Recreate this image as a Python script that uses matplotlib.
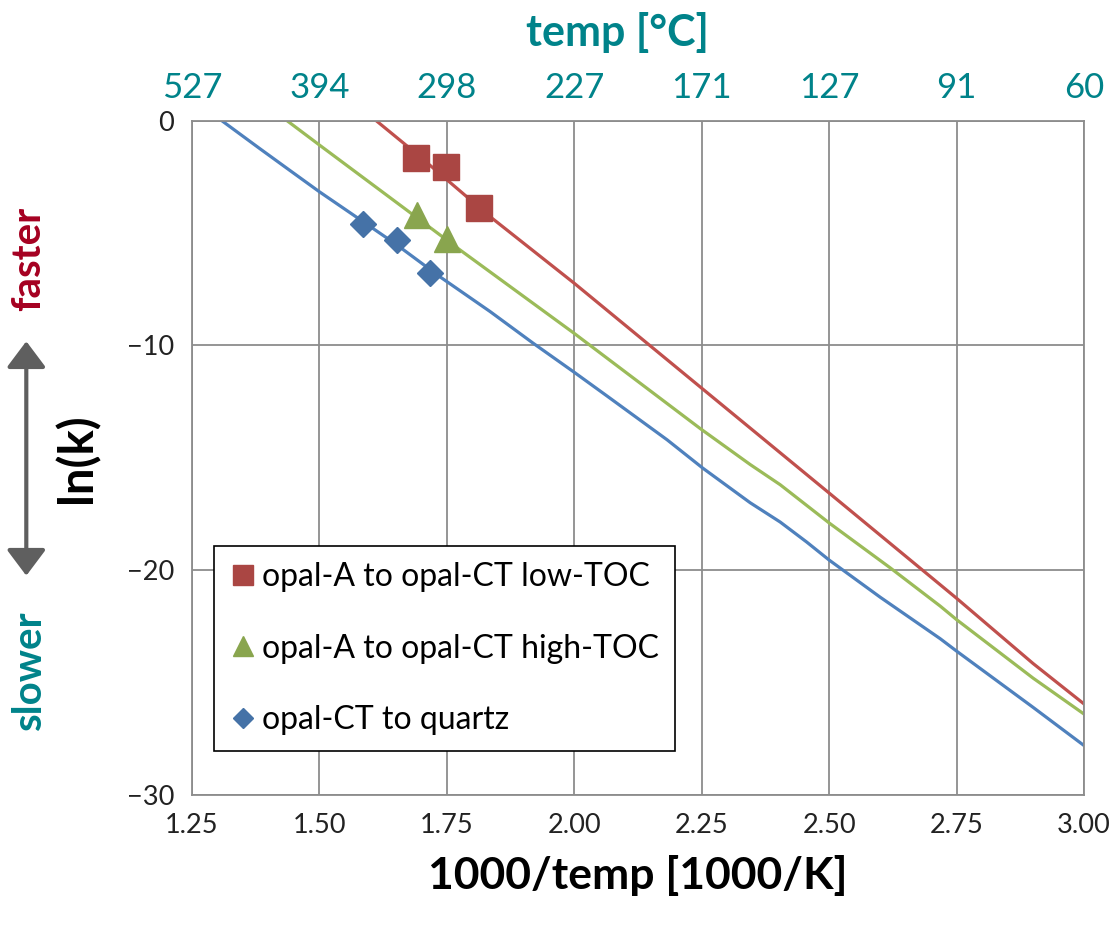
import numpy as np
import matplotlib.pyplot as plt

plt.rcParams['font.family'] = ['Lato', 'DejaVu Sans']

# rate curves, ln(k) against 1000/T
red_x = [1.611, 1.69, 1.835, 2.0, 2.247, 2.5, 2.718, 2.75, 2.9, 3.0]
red_y = [0.0, -1.47, -4.28, -7.24, -11.85, -16.57, -20.65, -21.25, -24.15, -25.95]
green_x = [1.436, 1.5, 1.619, 1.69, 1.776, 2.0, 2.247, 2.345, 2.404, 2.5, 2.62, 2.718, 2.75, 2.9, 3.0]
green_y = [0.0, -1.09, -3.1, -4.3, -5.76, -9.47, -13.7, -15.3, -16.2, -17.9, -19.9, -21.6, -22.2, -24.8, -26.4]
blue_x = [1.308, 1.383, 1.442, 1.5, 1.56, 1.65, 1.737, 1.835, 1.919, 2.0, 2.064, 2.182,
          2.252, 2.345, 2.404, 2.456, 2.5, 2.6, 2.718, 2.75, 2.9, 3.0]
blue_y = [0.0, -1.25, -2.22, -3.17, -4.1, -5.5, -6.96, -8.5, -9.9, -11.2, -12.25, -14.2,
          -15.46, -17.0, -17.86, -18.75, -19.55, -21.2, -23.05, -23.6, -26.1, -27.8]

# measured points
low_toc_x = [1.69, 1.748, 1.813]
low_toc_y = [-1.68, -2.08, -3.91]
high_toc_x = [1.691, 1.75]
high_toc_y = [-4.2, -5.26]
quartz_x = [1.585, 1.653, 1.717]
quartz_y = [-4.62, -5.32, -6.77]

x_ticks = [1.25, 1.50, 1.75, 2.00, 2.25, 2.50, 2.75, 3.00]
celsius_labels = ['527', '394', '298', '227', '171', '127', '91', '60']
y_ticks = [0, -10, -20, -30]

TEAL = '#00838a'
GRID = '#8c8c8c'

fig = plt.figure(figsize=(11.19, 9.30), dpi=100)
ax = fig.add_axes([0.1716, 0.1452, 0.7971, 0.7252])

ax.plot(red_x, red_y, color='#c0504d', lw=2.3)
ax.plot(green_x, green_y, color='#9bbb59', lw=2.3)
ax.plot(blue_x, blue_y, color='#4f81bd', lw=2.3)

ax.plot(low_toc_x, low_toc_y, 's', color='#aa4643', ms=19, mec='#aa4643',
        label='opal-A to opal-CT low-TOC')
ax.plot(high_toc_x, high_toc_y, '^', color='#89a54e', ms=19, mec='#89a54e',
        label='opal-A to opal-CT high-TOC')
ax.plot(quartz_x, quartz_y, 'D', color='#4572a7', ms=13.5, mec='#4572a7',
        label='opal-CT to quartz')

ax.set_xlim(1.25, 3.0)
ax.set_ylim(-30, 0)
ax.set_xticks(x_ticks)
ax.set_xticklabels([f'{v:.2f}' for v in x_ticks])
ax.set_yticks(y_ticks)
ax.grid(True, color=GRID, lw=1.3)
ax.set_axisbelow(True)
ax.tick_params(length=0, labelsize=19.5, pad=13, colors='#222222')
for sp in ax.spines.values():
    sp.set_color(GRID)
    sp.set_linewidth(1.3)

ax.set_xlabel('1000/temp [1000/K]', fontsize=32, fontweight='bold', labelpad=12)

# Celsius scale along the top
top = ax.twiny()
top.set_xlim(ax.get_xlim())
top.set_xticks(x_ticks)
top.set_xticklabels(celsius_labels)
top.tick_params(length=0, labelsize=25, colors=TEAL, pad=12)
for sp in top.spines.values():
    sp.set_visible(False)
fig.text(0.552, 0.965, 'temp [°C]', fontsize=31, fontweight='bold', color=TEAL,
         ha='center', va='center')

leg = ax.legend(loc='lower left', bbox_to_anchor=(0.0247, 0.065), borderaxespad=0,
                fontsize=23, frameon=True, fancybox=False, edgecolor='black',
                framealpha=1, handlelength=0.8, handletextpad=0.2,
                labelspacing=1.3, borderpad=0.5, markerscale=0.75)
leg.get_frame().set_linewidth(1.2)

# ln(k) label with faster/slower arrow
fig.text(0.069, 0.507, 'ln(k)', rotation=90, fontsize=34, fontweight='bold',
         ha='center', va='center')
fig.text(0.026, 0.722, 'faster', rotation=90, fontsize=29, fontweight='bold',
         color='#a50021', ha='center', va='center')
fig.text(0.026, 0.279, 'slower', rotation=90, fontsize=29, fontweight='bold',
         color=TEAL, ha='center', va='center')
fig.add_artist(plt.matplotlib.patches.FancyArrowPatch(
    (0.0235, 0.378), (0.0235, 0.636), transform=fig.transFigure,
    arrowstyle='<|-|>,head_length=0.8,head_width=0.6', color='#5f5f5f',
    lw=3, mutation_scale=20))

fig.savefig('out.png', dpi=100)
